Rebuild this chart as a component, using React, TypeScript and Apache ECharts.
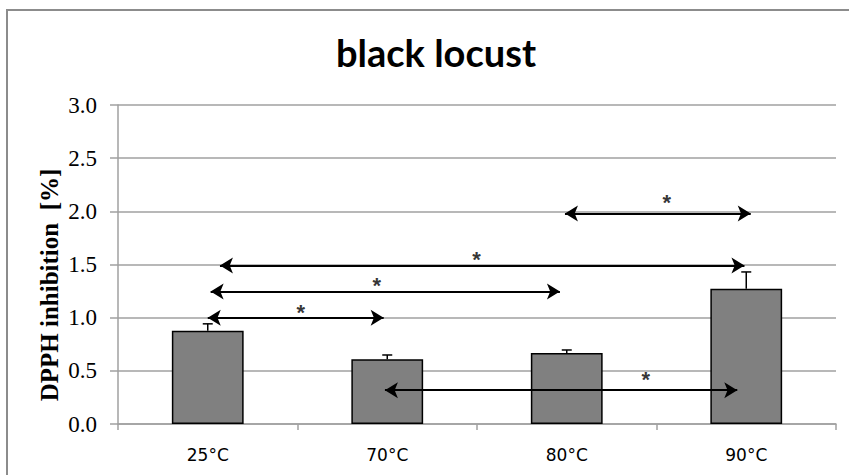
import React, { useEffect, useRef } from "react";
import * as echarts from "echarts";

const categories = ["25°C", "70°C", "80°C", "90°C"];
const values = [0.877, 0.608, 0.668, 1.272];
const errors = [0.065, 0.041, 0.028, 0.158];
const yTicks = [0, 0.5, 1.0, 1.5, 2.0, 2.5, 3.0];

// significance arrows: [xStart, xEnd, y] on a 0..4 category-span scale
const arrowStarts = [0.5, 0.516, 0.568, 2.49, 1.487];
const arrowEnds = [1.48, 2.462, 3.49, 3.525, 3.45];
const arrowLevels = [1.0, 1.245, 1.49, 1.98, 0.318];
const starX = [1.018, 1.441, 1.998, 3.057, 2.94];
const starY = [1.09, 1.344, 1.585, 2.124, 0.454];

export default function App() {
  const ref = useRef<HTMLDivElement>(null);
  useEffect(() => {
    if (!ref.current) return;
    const chart = echarts.init(ref.current, null, { renderer: "svg" });
    const gray = "#a0a0a0";
    chart.setOption({
      animation: false,
      backgroundColor: "#fff",
      title: {
        text: "black locust",
        left: 331,
        top: 28,
        textStyle: {
          fontFamily: "Lato",
          fontWeight: "bold",
          fontSize: 38,
          color: "#000",
        },
      },
      graphic: [
        {
          type: "rect",
          shape: { x: 7, y: 10, width: 900, height: 500 },
          style: { fill: "none", stroke: "#8c8c8c", lineWidth: 2 },
          silent: true,
        },
        {
          type: "text",
          x: 49,
          y: 285,
          rotation: Math.PI / 2,
          style: {
            text: "DPPH inhibition  [%]",
            fontFamily: "Liberation Serif",
            fontWeight: "bold",
            fontSize: 25,
            fill: "#000",
            align: "center",
            verticalAlign: "middle",
          },
          silent: true,
        },
      ],
      grid: { left: 118, right: 13, top: 105, bottom: 51 },
      xAxis: [
        {
          type: "category",
          data: categories,
          axisLine: { lineStyle: { color: gray, width: 1.5 } },
          axisTick: { show: true, length: 6, lineStyle: { color: gray, width: 1.5 } },
          axisLabel: {
            margin: 22,
            formatter: (v: string) => "{x|" + v + "}",
            rich: {
              x: { fontFamily: "DejaVu Sans", fontSize: 17, color: "#000" },
            },
          },
        },
        { type: "value", min: 0, max: 4, show: false },
      ],
      yAxis: {
        type: "value",
        min: 0,
        max: 3,
        interval: 0.5,
        axisLine: { show: true, lineStyle: { color: gray, width: 1.5 } },
        axisTick: { show: true, length: 8, lineStyle: { color: gray, width: 1.5 } },
        axisLabel: {
          margin: 21,
          formatter: (v: number) =>
            yTicks.includes(v) ? "{y|" + v.toFixed(1) + "}" : "",
          rich: {
            y: { fontFamily: "Liberation Serif", fontSize: 23, color: "#000" },
          },
        },
        splitLine: { lineStyle: { color: gray, width: 1.5 } },
      },
      series: [
        {
          type: "bar",
          data: values,
          barWidth: "40%",
          itemStyle: { color: "#808080", borderColor: "#000", borderWidth: 1.5 },
          z: 2,
        },
        {
          type: "custom",
          data: values.map((v, i) => [i, v, v + errors[i]]),
          renderItem: (params: any, api: any) => {
            const base = api.coord([api.value(0), api.value(1)]);
            const top = api.coord([api.value(0), api.value(2)]);
            const hw = 5;
            return {
              type: "group",
              children: [
                {
                  type: "line",
                  shape: { x1: base[0], y1: base[1], x2: top[0], y2: top[1] },
                  style: { stroke: "#000", lineWidth: 1.5 },
                },
                {
                  type: "line",
                  shape: { x1: top[0] - hw, y1: top[1], x2: top[0] + hw, y2: top[1] },
                  style: { stroke: "#000", lineWidth: 1.5 },
                },
              ],
            };
          },
          z: 3,
        },
        {
          type: "scatter",
          xAxisIndex: 1,
          data: starX.map((x, i) => [x, starY[i]]),
          symbolSize: 0,
          itemStyle: { color: "#000" },
          label: {
            show: true,
            position: "inside",
            offset: [0, 4],
            formatter: "{s|*}",
            rich: {
              s: {
                fontFamily: "Liberation Sans",
                fontWeight: "bold",
                fontSize: 22,
                color: "#000",
              },
            },
          },
          markLine: {
            silent: true,
            symbol: ["arrow", "arrow"],
            symbolSize: [12, 13],
            label: { show: false },
            lineStyle: { color: "#000", width: 2, type: "solid" },
            data: arrowStarts.map((s, i) => [
              { coord: [s, arrowLevels[i]] },
              { coord: [arrowEnds[i], arrowLevels[i]] },
            ]),
          },
          z: 5,
        },
      ],
    });
    return () => chart.dispose();
  }, []);
  return (
    <div
      ref={ref}
      style={{ position: "fixed", left: 0, top: 0, width: 849, height: 475 }}
    />
  );
}
